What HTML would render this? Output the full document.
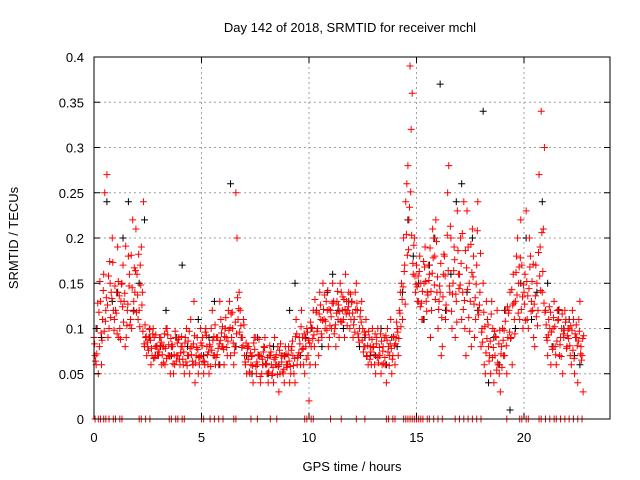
<!DOCTYPE html>
<html><head><meta charset="utf-8"><style>
body{margin:0;background:#fff}
svg{display:block;font-family:"Liberation Sans","DejaVu Sans",sans-serif}
</style></head><body>
<svg id="chart" width="640" height="480">
<text x="350" y="32" font-size="13" text-anchor="middle">Day 142 of 2018, SRMTID for receiver mchl</text>
<text x="352" y="471" font-size="13" text-anchor="middle">GPS time / hours</text>
<text x="18" y="238" font-size="13" text-anchor="middle" transform="rotate(-90 18 238)">SRMTID / TECUs</text>
<g id="grid"></g>
<g id="pts"></g>
<g id="axes"></g>
</svg>
<script>
const xTicks=[0,5,10,15,20];
const yTicks=[0,0.05,0.1,0.15,0.2,0.25,0.3,0.35,0.4];
const yLabels=["0","0.05","0.1","0.15","0.2","0.25","0.3","0.35","0.4"];
const redStartA=0, redStartB=0.05, redStartC=0.03, redStartD=0.075, redStep=0.1, blackStep=0.25;
const redA=[.09,.06,.05,.13,.11,.25,.27,.10,.14,.12,
.12,.19,.10,.15,.13,.09,.18,.11,.22,.14,
.16,.12,.19,.24,.09,.08,.10,.07,.09,.08,
.07,.09,.08,.06,.10,.07,.08,.05,.09,.07,
.06,.08,.05,.10,.07,.11,.06,.04,.09,.06,
.07,.05,.10,.06,.08,.12,.07,.09,.06,.11,
.08,.10,.07,.13,.09,.06,.25,.11,.12,.09,
.07,.05,.08,.06,.04,.09,.06,.07,.05,.08,
.06,.04,.07,.05,.09,.06,.03,.07,.05,.08,
.06,.04,.08,.05,.11,.07,.06,.09,.05,.10,
.02,.08,.12,.06,.10,.14,.09,.11,.13,.08,
.12,.15,.10,.13,.09,.14,.11,.16,.12,.10,
.13,.11,.15,.09,.12,.10,.08,.07,.09,.06,
.08,.05,.10,.07,.06,.09,.04,.08,.11,.07,
.06,.10,.12,.15,.20,.24,.28,.39,.36,.20,
.17,.13,.15,.11,.19,.14,.16,.12,.20,.22,
.10,.14,.08,.18,.12,.28,.20,.15,.09,.23,
.16,.11,.24,.07,.19,.13,.21,.09,.17,.12,
.08,.15,.05,.11,.07,.13,.04,.09,.06,.03,
.10,.07,.05,.12,.09,.16,.13,.20,.11,.17,
.14,.23,.10,.18,.12,.08,.15,.27,.34,.21,
.12,.07,.10,.08,.13,.06,.11,.09,.05,.12,
.08,.10,.06,.11,.09,.04,.13,.07];
const redB=[.07,.10,.08,.06,.16,.12,.09,.15,.20,.11,
.14,.09,.13,.17,.08,.12,.16,.10,.13,.21,
.11,.17,.14,.08,.07,.09,.06,.10,.08,.07,
.09,.06,.08,.10,.07,.05,.08,.06,.07,.09,
.08,.06,.09,.07,.05,.08,.13,.07,.05,.10,
.09,.06,.08,.05,.10,.07,.06,.09,.13,.08,
.06,.09,.12,.07,.10,.08,.20,.14,.09,.11,
.06,.08,.05,.07,.09,.05,.07,.04,.06,.09,
.05,.07,.06,.04,.06,.08,.05,.07,.04,.06,
.08,.05,.07,.04,.06,.09,.12,.06,.08,.07,
.06,.10,.08,.12,.07,.11,.15,.10,.12,.09,
.10,.13,.08,.11,.15,.12,.09,.13,.14,.11,
.09,.14,.12,.10,.13,.08,.11,.06,.08,.10,
.06,.09,.07,.05,.08,.06,.10,.07,.05,.09,
.09,.07,.14,.11,.17,.26,.22,.32,.16,.14,
.13,.18,.11,.15,.13,.17,.09,.21,.18,.14,
.13,.07,.16,.11,.25,.14,.10,.19,.13,.16,
.20,.14,.10,.23,.15,.08,.18,.11,.24,.14,
.10,.06,.13,.08,.05,.10,.07,.12,.05,.08,
.07,.12,.09,.14,.06,.11,.18,.15,.22,.10,
.16,.11,.20,.13,.09,.17,.12,.19,.14,.30,
.09,.11,.06,.10,.08,.12,.07,.10,.09,.11,
.10,.07,.12,.05,.09,.11,.08,.03];
const redC=[.083,.072,.118,.095,.142,.108,.126,.174,.133,.098,
.117,.152,.088,.124,.139,.103,.147,.181,.119,.164,
.137,.102,.126,.083,.091,.076,.087,.094,.068,.081,
.074,.085,.062,.078,.093,.069,.082,.071,.064,.088,
.073,.066,.084,.059,.097,.071,.083,.062,.077,.069,
.081,.063,.092,.074,.058,.087,.104,.071,.083,.095,
.077,.112,.086,.101,.118,.073,.094,.122,.103,.081,
.063,.078,.052,.069,.084,.058,.071,.047,.066,.079,
.061,.052,.074,.057,.068,.049,.076,.063,.055,.072,
.071,.058,.086,.067,.094,.073,.102,.078,.089,.096,
.084,.101,.093,.118,.087,.126,.109,.137,.098,.121,
.113,.128,.104,.141,.119,.107,.132,.116,.124,.138,
.117,.096,.128,.085,.107,.074,.093,.081,.066,.088,
.071,.083,.062,.094,.075,.068,.087,.059,.078,.091,
.083,.096,.117,.132,.163,.204,.187,.251,.172,.158,
.146,.163,.128,.174,.152,.137,.189,.161,.148,.196,
.121,.172,.135,.158,.203,.147,.119,.164,.138,.186,
.148,.205,.131,.167,.112,.193,.157,.134,.208,.126,
.096,.118,.073,.104,.086,.068,.097,.054,.083,.072,
.087,.108,.124,.096,.143,.128,.162,.117,.178,.135,
.127,.152,.144,.119,.171,.136,.103,.158,.206,.128,
.104,.093,.118,.077,.102,.086,.121,.069,.094,.107,
.092,.081,.098,.067,.104,.086,.072,.089];
const redD=[.064,.128,.152,.087,.097,.134,.158,.112,.173,.147,
.094,.136,.149,.107,.191,.127,.104,.145,.167,.118,
.182,.148,.097,.104,.085,.099,.078,.067,.093,.074,
.081,.071,.094,.067,.082,.089,.061,.097,.084,.066,
.091,.074,.063,.086,.078,.064,.092,.079,.068,.084,
.064,.096,.071,.082,.076,.091,.068,.078,.087,.102,
.091,.079,.098,.116,.084,.107,.134,.096,.079,.104,
.084,.066,.073,.059,.077,.063,.088,.069,.074,.061,
.068,.081,.048,.066,.071,.058,.083,.052,.069,.057,
.064,.076,.059,.091,.068,.083,.077,.094,.066,.087,
.107,.089,.132,.097,.116,.094,.121,.108,.142,.103,
.128,.094,.117,.126,.108,.135,.121,.103,.117,.129,
.104,.121,.094,.113,.087,.096,.069,.097,.074,.079,
.094,.068,.079,.086,.061,.092,.074,.083,.066,.081,
.107,.089,.102,.146,.127,.181,.234,.203,.192,.149,
.158,.124,.141,.168,.119,.153,.141,.178,.132,.157,
.147,.112,.182,.126,.164,.213,.138,.176,.107,.144,
.172,.121,.186,.143,.097,.162,.127,.149,.115,.183,
.085,.102,.089,.064,.116,.079,.091,.062,.098,.057,
.098,.081,.117,.089,.126,.094,.137,.168,.121,.148,
.109,.136,.168,.152,.127,.113,.184,.142,.163,.118,
.087,.124,.096,.112,.071,.109,.082,.116,.098,.078,
.089,.103,.076,.094,.081,.097,.065,.092];
const black=[.10,.09,.24,.13,.14,.20,.24,.12,.15,.22,.09,.07,.08,.12,.07,.09,
.17,.08,.06,.11,.07,.09,.13,.06,.10,.26,.08,.09,.07,.05,.09,.06,
.05,.08,.06,.07,.12,.15,.07,.09,.10,.12,.08,.14,.16,.12,.10,.13,
.11,.08,.09,.07,.07,.10,.06,.09,.08,.14,.22,.18,.15,.11,.17,.20,
.37,.12,.16,.24,.26,.14,.20,.12,.34,.04,.09,.06,.12,.01,.10,.15,
.20,.11,.14,.24,.15,.08,.12,.10,.11,.07,.06];
const zeroTimes=[0.05,0.2,0.3,0.45,0.55,0.7,0.9,1.0,1.2,1.3,2.1,2.2,2.4,2.6,3.5,3.6,3.8,3.9,4.1,4.2,5.0,5.1,5.4,5.6,5.8,6.0,6.5,6.6,7.3,7.6,8.2,8.5,9.8,9.9,10.1,10.2,11.0,11.5,12.2,12.6,13.6,13.7,13.9,14.0,14.4,14.5,14.6,14.7,14.8,14.9,15.0,15.1,15.2,15.3,15.5,15.6,15.8,16.0,16.2,16.8,17.0,17.2,17.4,17.6,17.8,18.0,19.2,19.8,19.9,20.1,20.2,20.7,20.8,21.0,21.2,21.4,21.5,21.7,21.9,22.1,22.3,22.5,22.7];
const X0=94,X1=610,Y0=419,Y1=57;
const sx=t=>X0+t/24*(X1-X0);
const sy=v=>Y0-v/0.4*(Y0-Y1);
const NS='http://www.w3.org/2000/svg';
function mk(tag,attrs,parent){const e=document.createElementNS(NS,tag);for(const k in attrs)e.setAttribute(k,attrs[k]);parent.appendChild(e);return e;}
const grid=document.getElementById('grid'),axes=document.getElementById('axes'),pts=document.getElementById('pts');
xTicks.forEach(t=>{
 const x=sx(t);
 if(t>0){const l=mk('line',{x1:x,x2:x,y1:Y0,y2:Y1,stroke:'#a0a0a0','stroke-dasharray':'2,3'},grid);
 
 }
 mk('line',{x1:x,x2:x,y1:Y0,y2:Y0-6,stroke:'#000'},axes);
 mk('line',{x1:x,x2:x,y1:Y1,y2:Y1+6,stroke:'#000'},axes);
 const tx=mk('text',{x:x,y:Y0+23,'font-size':'13','text-anchor':'middle'},axes);tx.textContent=t;
 
 
});
yTicks.forEach((v,i)=>{
 const y=sy(v);
 if(v>0&&v<0.4){const l=mk('line',{x1:X0,x2:X1,y1:y,y2:y,stroke:'#a0a0a0','stroke-dasharray':'2,3'},grid);
 
 }
 mk('line',{x1:X0,x2:X0+6,y1:y,y2:y,stroke:'#000'},axes);
 mk('line',{x1:X1,x2:X1-6,y1:y,y2:y,stroke:'#000'},axes);
 const tx=mk('text',{x:X0-10,y:y+5,'font-size':'13','text-anchor':'end'},axes);tx.textContent=yLabels[i];
 
 
});
mk('rect',{x:X0,y:Y1,width:X1-X0,height:Y0-Y1,fill:'none',stroke:'#000'},axes);
function plus(t,v,col,name){
 const x=sx(t),y=sy(v);
 const p=mk('path',{d:`M${x-3.5} ${y}h7M${x} ${y-3.5}v7`,stroke:col,'stroke-width':'1',fill:'none'},pts);
 
 
}
black.forEach((v,i)=>plus(i*blackStep+0.1,v,'#000','black-point'));
redA.forEach((v,i)=>plus(redStartA+i*redStep,v,'#ff0000','red-point'));
redB.forEach((v,i)=>plus(redStartB+i*redStep,v,'#ff0000','red-point'));
redC.forEach((v,i)=>plus(redStartC+i*redStep,v,'#ff0000','red-point'));
redD.forEach((v,i)=>plus(redStartD+i*redStep,v,'#ff0000','red-point'));
zeroTimes.forEach(t=>plus(t,0,'#ff0000','zero-point'));
</script>
</body></html>
